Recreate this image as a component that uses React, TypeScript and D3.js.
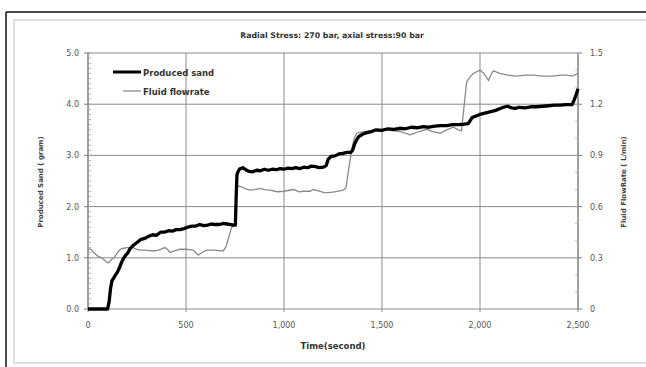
import React from 'react';
import * as d3 from 'd3';

const width = 646;
const height = 367;
const margin = { top: 53, bottom: 58, left: 88, right: 68 };

// produced sand (gram), left axis
const sandTime = [0, 50, 100, 108, 115, 122, 130, 140, 150, 160, 170, 180, 190, 200, 215, 230, 250, 270, 290, 310, 330, 350, 370, 390, 410, 430, 450, 470, 490, 510, 530, 550, 570, 590, 610, 630, 650, 670, 690, 710, 730, 745, 752, 756, 760, 765, 775, 790, 805, 820, 840, 860, 880, 900, 920, 940, 960, 980, 1000, 1020, 1040, 1060, 1080, 1100, 1120, 1140, 1160, 1180, 1200, 1215, 1225, 1240, 1260, 1280, 1300, 1320, 1340, 1350, 1360, 1370, 1380, 1395, 1410, 1430, 1450, 1470, 1500, 1530, 1560, 1590, 1620, 1650, 1680, 1710, 1740, 1770, 1800, 1830, 1860, 1890, 1920, 1940, 1950, 1960, 1980, 2000, 2020, 2040, 2060, 2080, 2100, 2120, 2140, 2160, 2180, 2200, 2230, 2260, 2290, 2320, 2350, 2380, 2410, 2440, 2470, 2480, 2490, 2500];
const sandValues = [0, 0, 0, 0.15, 0.4, 0.55, 0.6, 0.66, 0.72, 0.8, 0.9, 0.98, 1.04, 1.08, 1.18, 1.24, 1.3, 1.36, 1.38, 1.42, 1.45, 1.44, 1.5, 1.5, 1.53, 1.52, 1.55, 1.55, 1.57, 1.6, 1.62, 1.62, 1.65, 1.63, 1.64, 1.66, 1.65, 1.65, 1.67, 1.66, 1.65, 1.64, 1.64, 2.2, 2.62, 2.68, 2.74, 2.76, 2.72, 2.69, 2.68, 2.71, 2.7, 2.73, 2.71, 2.73, 2.72, 2.74, 2.73, 2.75, 2.74, 2.76, 2.74, 2.77, 2.76, 2.79, 2.78, 2.76, 2.77, 2.8, 2.92, 2.98, 2.99, 3.03, 3.04, 3.06, 3.06, 3.1, 3.22, 3.3, 3.36, 3.4, 3.43, 3.45, 3.47, 3.5, 3.49, 3.52, 3.51, 3.53, 3.52, 3.55, 3.54, 3.56, 3.55, 3.57, 3.58, 3.58, 3.6, 3.6, 3.61, 3.62, 3.68, 3.74, 3.77, 3.8, 3.82, 3.84, 3.86, 3.88, 3.91, 3.94, 3.96, 3.93, 3.92, 3.94, 3.93, 3.95, 3.95, 3.96, 3.97, 3.98, 3.98, 3.99, 3.99, 4.08, 4.18, 4.3];

// fluid flowrate (L/min), right axis
const flowTime = [0, 15, 30, 50, 70, 90, 104, 120, 133, 150, 165, 180, 200, 231, 250, 265, 290, 333, 360, 393, 410, 418, 440, 469, 500, 537, 563, 580, 605, 640, 690, 704, 718, 733, 745, 752, 758, 770, 784, 800, 827, 850, 878, 900, 929, 963, 1000, 1048, 1080, 1100, 1133, 1149, 1180, 1209, 1250, 1303, 1316, 1330, 1345, 1358, 1371, 1390, 1422, 1460, 1507, 1550, 1592, 1643, 1690, 1728, 1760, 1796, 1830, 1864, 1890, 1906, 1915, 1932, 1950, 1966, 2000, 2020, 2043, 2055, 2068, 2102, 2140, 2187, 2230, 2272, 2320, 2374, 2410, 2442, 2470, 2500];
const flowValues = [0.356, 0.35, 0.33, 0.31, 0.3, 0.28, 0.27, 0.29, 0.3, 0.33, 0.35, 0.356, 0.36, 0.36, 0.35, 0.345, 0.345, 0.34, 0.345, 0.36, 0.345, 0.33, 0.34, 0.35, 0.35, 0.345, 0.316, 0.33, 0.345, 0.345, 0.34, 0.365, 0.42, 0.48, 0.485, 0.5, 0.716, 0.72, 0.716, 0.705, 0.697, 0.7, 0.707, 0.7, 0.697, 0.687, 0.69, 0.7, 0.687, 0.69, 0.69, 0.7, 0.69, 0.68, 0.685, 0.697, 0.71, 0.82, 0.93, 1.0, 1.03, 1.035, 1.04, 1.045, 1.053, 1.045, 1.04, 1.02, 1.04, 1.053, 1.04, 1.03, 1.05, 1.065, 1.05, 1.045, 1.147, 1.33, 1.36, 1.38, 1.4, 1.38, 1.34, 1.37, 1.395, 1.38, 1.37, 1.365, 1.37, 1.37, 1.365, 1.365, 1.37, 1.37, 1.365, 1.38];

const xTicks = [0, 500, 1000, 1500, 2000, 2500];
const leftTicks = [0, 1, 2, 3, 4, 5];
const rightTicks = [0, 0.3, 0.6, 0.9, 1.2, 1.5];

const title = 'Radial Stress: 270 bar, axial stress:90 bar';
const seriesNames = ['Produced sand', 'Fluid flowrate'];

const font = 'DejaVu Sans, Verdana, sans-serif';
const gridColor = '#8a8a8a';

export default function App() {
  const x = d3.scaleLinear().domain([0, 2500]).range([margin.left, width - margin.right]);
  const yL = d3.scaleLinear().domain([0, 5]).range([height - margin.bottom, margin.top]);
  const yR = d3.scaleLinear().domain([0, 1.5]).range([height - margin.bottom, margin.top]);

  const sandLine = d3.line<number>()
    .x((t) => x(t))
    .y((_, i) => yL(sandValues[i]));
  const flowLine = d3.line<number>()
    .x((t) => x(t))
    .y((_, i) => yR(flowValues[i]));

  const x0 = x(0), x1 = x(2500), yb = yL(0), yt = yL(5);
  const minorLeft = d3.range(0, 5.001, 0.1);
  const minorRight = d3.range(0, 1.501, 0.1);

  return (
    <svg width={width} height={height} style={{ position: 'absolute', left: 0, top: 0, background: '#fff' }}>
      {/* frame */}
      <rect x={14} y={20} width={640} height={343} fill="none" stroke="#d6d6d6" strokeWidth={1.5} />
      <line x1={6} y1={12} x2={646} y2={12} stroke="#111" strokeWidth={1.5} />
      <line x1={6} y1={12} x2={6} y2={367} stroke="#111" strokeWidth={1.5} />

      <text x={332} y={38} textAnchor="middle" fontFamily={font} fontSize={7.8} fontWeight="bold" fill="#333">{title}</text>

      {/* grid */}
      {leftTicks.map((v) => (
        <line key={'h' + v} x1={x0} x2={x1} y1={yL(v)} y2={yL(v)} stroke={gridColor} strokeWidth={1} />
      ))}
      {xTicks.map((t) => (
        <line key={'v' + t} x1={x(t)} x2={x(t)} y1={yt} y2={yb + 3} stroke={gridColor} strokeWidth={1} />
      ))}
      <line x1={x0} x2={x0} y1={yt} y2={yb} stroke="#7a7a7a" strokeWidth={1} />
      <line x1={x1} x2={x1} y1={yt} y2={yb} stroke="#7a7a7a" strokeWidth={1} />
      {minorLeft.map((v, i) => (
        <line key={'ml' + i} x1={x0} x2={x0 + 3} y1={yL(v)} y2={yL(v)} stroke="#a0a0a0" strokeWidth={0.8} />
      ))}
      {minorRight.map((v, i) => (
        <line key={'mr' + i} x1={x1 - 3} x2={x1} y1={yR(v)} y2={yR(v)} stroke="#b0b0b0" strokeWidth={0.8} />
      ))}
      {leftTicks.map((v) => (
        <line key={'lt' + v} x1={x0 - 4} x2={x0} y1={yL(v)} y2={yL(v)} stroke="#7a7a7a" />
      ))}
      {rightTicks.map((v) => (
        <line key={'rt' + v} x1={x1} x2={x1 + 4} y1={yR(v)} y2={yR(v)} stroke="#7a7a7a" />
      ))}

      {/* tick labels */}
      {leftTicks.map((v) => (
        <text key={'ll' + v} x={x0 - 9} y={yL(v) + 3} textAnchor="end" fontFamily={font} fontSize={8} fill="#555">{d3.format('.1f')(v)}</text>
      ))}
      {rightTicks.map((v) => (
        <text key={'rl' + v} x={x1 + 12} y={yR(v) + 3} textAnchor="start" fontFamily={font} fontSize={8} fill="#555">{v === 0 ? '0' : d3.format('.1f')(v)}</text>
      ))}
      {xTicks.map((t) => (
        <text key={'xl' + t} x={x(t)} y={yb + 19} textAnchor="middle" fontFamily={font} fontSize={8} fill="#555">{d3.format(',')(t)}</text>
      ))}

      {/* axis titles */}
      <text x={333} y={349} textAnchor="middle" fontFamily={font} fontSize={8.5} fontWeight="bold" fill="#333">Time(second)</text>
      <text transform={`translate(43,182) rotate(-90)`} textAnchor="middle" fontFamily={font} fontSize={7} fontWeight="bold" fill="#444">Produced Sand ( gram)</text>
      <text transform={`translate(626,182) rotate(-90)`} textAnchor="middle" fontFamily={font} fontSize={7} fontWeight="bold" fill="#444">Fluid FlowRate ( L/min)</text>

      {/* series */}
      <path d={flowLine(flowTime) ?? ''} fill="none" stroke="#8a8a8a" strokeWidth={1.3} />
      <path d={sandLine(sandTime) ?? ''} fill="none" stroke="#000" strokeWidth={3.3} strokeLinejoin="round" />

      {/* legend */}
      <line x1={113} x2={141} y1={72} y2={72} stroke="#000" strokeWidth={3} />
      <text x={143} y={75.5} fontFamily={font} fontSize={8.5} fontWeight="bold" fill="#333">{seriesNames[0]}</text>
      <line x1={123} x2={141} y1={91} y2={91} stroke="#8a8a8a" strokeWidth={1.3} />
      <text x={143} y={94.5} fontFamily={font} fontSize={8.5} fontWeight="bold" fill="#333">{seriesNames[1]}</text>
    </svg>
  );
}
